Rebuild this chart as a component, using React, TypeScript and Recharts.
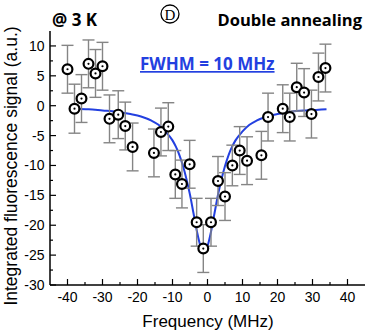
import { ComposedChart, Line, Scatter, ErrorBar, XAxis, YAxis } from 'recharts';

// measured points (frequency in MHz, signal in a.u., half error bar)
const freq = [-40, -38, -36, -34, -32, -30, -28, -25.5, -23.5, -21.4, -15.3, -13.3, -11.2, -9.2, -7.3, -5.1, -3.1, -1.2, 1.0, 3.0, 5.0, 7.1, 9.2, 11.3, 15.4, 17.3, 21.5, 23.5, 25.5, 27.6, 29.7, 31.7, 33.7];
const signal = [6.1, -0.5, 1.2, 7.0, 5.4, 6.6, -2.2, -1.5, -3.4, -6.9, -7.9, -4.4, -3.5, -11.5, -13.1, -9.8, -19.5, -23.9, -19.5, -12.6, -15.2, -10.0, -7.5, -9.2, -8.3, -1.9, -0.5, -1.9, 3.1, 2.2, -1.4, 4.8, 6.3];
const errors = [4.0, 4.1, 4.0, 4.0, 4.0, 4.0, 4.0, 4.0, 4.0, 4.0, 4.0, 4.0, 4.0, 4.0, 4.0, 4.0, 4.0, 4.0, 4.0, 4.1, 4.0, 3.4, 4.0, 4.0, 4.0, 4.0, 4.0, 4.0, 4.0, 4.0, 4.0, 4.0, 4.0];

// fitted lorentzian
const fitFreq = [-38, -34, -30, -26, -22, -19, -16, -14, -12, -10, -9, -8, -7, -6, -5, -4, -3, -2, -1, 0, 1, 2, 3, 4, 5, 6, 7, 8, 10, 12, 14, 17, 20, 24, 28, 31, 34];
const fitSignal = [-0.5, -0.6, -0.8, -1.0, -1.4, -1.8, -2.5, -3.2, -4.3, -5.8, -6.9, -8.3, -10.1, -12.3, -14.9, -18.0, -21.1, -23.5, -24.4, -23.5, -21.1, -18.0, -14.9, -12.3, -10.1, -8.3, -6.9, -5.8, -4.3, -3.2, -2.5, -1.8, -1.4, -1.0, -0.8, -0.7, -0.6];

const xTicks = [-40, -35, -30, -25, -20, -15, -10, -5, 0, 5, 10, 15, 20, 25, 30, 35, 40];
const yTicks = [-30, -27.5, -25, -22.5, -20, -17.5, -15, -12.5, -10, -7.5, -5, -2.5, 0, 2.5, 5, 7.5, 10];

const points = freq.map((f, i) => ({ f, v: signal[i], err: errors[i] }));
const fit = fitFreq.map((f, i) => ({ f, v: fitSignal[i] }));

const blue = '#2340e0';
const tickFont = '"Liberation Sans", Arial, sans-serif';
const boldFont = '"Open Sans", sans-serif';
const axisLine = { stroke: '#000', strokeWidth: 1.5 };

const BottomTick = (props: any) => {
  const { x, y, payload } = props;
  const major = payload.value % 10 === 0;
  return (
    <g>
      <line x1={x} x2={x} y1={y} y2={y - (major ? 6 : 3)} stroke="#000" strokeWidth={1.2} />
      {major && (
        <text x={x} y={y + 17} textAnchor="middle" fontSize={14} fill="#000" fontFamily={tickFont}>
          {payload.value}
        </text>
      )}
    </g>
  );
};

const TopTick = (props: any) => {
  const { x, y, payload } = props;
  const major = payload.value % 10 === 0;
  return <line x1={x} x2={x} y1={y} y2={y + (major ? 6 : 3)} stroke="#000" strokeWidth={1.2} />;
};

const LeftTick = (props: any) => {
  const { x, y, payload } = props;
  const major = payload.value % 5 === 0;
  return (
    <g>
      <line x1={x} x2={x + (major ? 6 : 3)} y1={y} y2={y} stroke="#000" strokeWidth={1.2} />
      {major && (
        <text x={x - 5.5} y={y + 5} textAnchor="end" fontSize={14} fill="#000" fontFamily={tickFont}>
          {payload.value}
        </text>
      )}
    </g>
  );
};

const RightTick = (props: any) => {
  const { x, y, payload } = props;
  const major = payload.value % 5 === 0;
  return <line x1={x} x2={x - (major ? 6 : 3)} y1={y} y2={y} stroke="#000" strokeWidth={1.2} />;
};

const Marker = (props: any) => {
  const { cx, cy } = props;
  return (
    <g>
      <circle cx={cx} cy={cy} r={4.9} fill="#fff" stroke="#000" strokeWidth={2.2} />
      <circle cx={cx} cy={cy} r={1.1} fill="#000" />
    </g>
  );
};

export default function App() {
  return (
    <div style={{ position: 'absolute', left: 0, top: 0, width: 369, height: 334, background: '#fff' }}>
      <ComposedChart width={369} height={334} margin={{ top: 31, right: 4, bottom: 0, left: 0 }}>
        <XAxis
          xAxisId="b"
          dataKey="f"
          type="number"
          domain={[-45, 45]}
          ticks={xTicks}
          interval={0}
          tick={BottomTick}
          tickLine={false}
          tickSize={0}
          tickMargin={0}
          height={49}
          axisLine={axisLine}
          allowDataOverflow
        />
        <XAxis
          xAxisId="t"
          orientation="top"
          dataKey="f"
          type="number"
          domain={[-45, 45]}
          ticks={xTicks}
          interval={0}
          tick={TopTick}
          tickLine={false}
          tickSize={0}
          tickMargin={0}
          height={0}
          axisLine={axisLine}
          allowDataOverflow
        />
        <YAxis
          yAxisId="l"
          dataKey="v"
          type="number"
          domain={[-30, 12.5]}
          ticks={yTicks}
          interval={0}
          tick={LeftTick}
          tickLine={false}
          tickSize={0}
          tickMargin={0}
          width={50}
          axisLine={axisLine}
          allowDataOverflow
        />
        <YAxis
          yAxisId="r"
          orientation="right"
          dataKey="v"
          type="number"
          domain={[-30, 12.5]}
          ticks={yTicks}
          interval={0}
          tick={RightTick}
          tickLine={false}
          tickSize={0}
          tickMargin={0}
          width={0}
          axisLine={axisLine}
          allowDataOverflow
        />
        <Line
          xAxisId="b"
          yAxisId="l"
          data={fit}
          dataKey="v"
          type="monotone"
          stroke={blue}
          strokeWidth={2}
          dot={false}
          isAnimationActive={false}
        />
        <Scatter xAxisId="b" yAxisId="l" data={points} dataKey="v" shape={Marker} isAnimationActive={false}>
          <ErrorBar dataKey="err" direction="y" width={6} stroke="#858585" strokeWidth={1.4} isAnimationActive={false} />
        </Scatter>
      </ComposedChart>
      <svg width={369} height={334} style={{ position: 'absolute', left: 0, top: 0, pointerEvents: 'none' }}>
        <text x={52} y={26} fontSize={17} fontWeight={700} fontFamily={boldFont} fill="#000">@ 3 K</text>
        <text x={362} y={26} textAnchor="end" fontSize={16.5} fontWeight={700} fontFamily={boldFont} fill="#000">Double annealing</text>
        <circle cx={170} cy={14} r={9} fill="none" stroke="#000" strokeWidth={1.3} />
        <text x={170} y={19.5} textAnchor="middle" fontSize={15} fontFamily='"Liberation Serif", serif' fill="#000">D</text>
        <text x={140} y={70} fontSize={17} fontWeight={700} fontFamily={boldFont} fill={blue} textDecoration="underline">FWHM = 10 MHz</text>
        <text x={208} y={327} textAnchor="middle" fontSize={17} fontFamily={tickFont} fill="#000">Frequency (MHz)</text>
        <text x={16.5} y={166} transform="rotate(-90 16.5 166)" textAnchor="middle" fontSize={17.5} fontFamily={tickFont} fill="#000">Integrated fluorescence signal (a.u.)</text>
      </svg>
    </div>
  );
}
